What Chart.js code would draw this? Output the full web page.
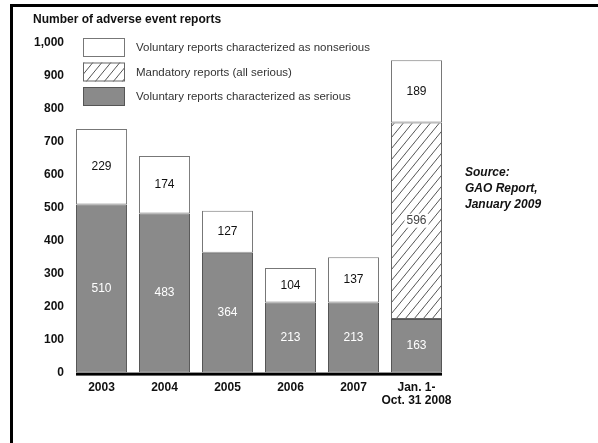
<!DOCTYPE html>
<html>
<head>
<meta charset="utf-8">
<script src="https://cdn.jsdelivr.net/npm/chart.js@4"></script>
<style>
  html, body { margin: 0; padding: 0; background: #fff; }
  #wrap { position: relative; width: 598px; height: 443px; overflow: hidden; font-family: "Liberation Sans", Arial, sans-serif; }
  #frame { position: absolute; left: 10px; top: 4px; right: -5px; bottom: -5px; border-top: 3px solid #000; border-left: 3px solid #000; }
  #title { position: absolute; left: 33px; top: 12px; font-weight: bold; font-size: 12px; line-height: 14px; color: #111; }
  #source { position: absolute; left: 465px; top: 164px; font-weight: bold; font-style: italic; font-size: 12px; line-height: 16px; color: #111; }
  canvas { position: absolute; left: 0; top: 0; }
</style>
</head>
<body>
<div id="wrap">
  <canvas id="chart" width="598" height="443"></canvas>
  <div id="frame"></div>
  <div id="title">Number of adverse event reports</div>
  <div id="source">Source:<br>GAO Report,<br>January 2009</div>
</div>
<script>
// Data
const categories = ['2003', '2004', '2005', '2006', '2007', ['Jan. 1-', 'Oct. 31 2008']];
const seriousValues = [510, 483, 364, 213, 213, 163];
const mandatoryValues = [0, 0, 0, 0, 0, 596];
const nonseriousValues = [229, 174, 127, 104, 137, 189];
const seriesNames = [
    'Voluntary reports characterized as serious',
    'Mandatory reports (all serious)',
    'Voluntary reports characterized as nonserious'
];
const Y_MAX = 1000;
const Y_STEP = 100;

const FONT = '"Liberation Sans", Arial, sans-serif';
const canvas = document.getElementById('chart');

/** Diagonal hatch used for the mandatory reports */
function makeHatch(ctx) {
    const w = 9, h = 11;
    const tile = document.createElement('canvas');
    tile.width = w; tile.height = h;
    const g = tile.getContext('2d');
    g.fillStyle = '#fff';
    g.fillRect(0, 0, w, h);
    g.strokeStyle = '#555';
    g.lineWidth = 1;
    g.beginPath();
    g.moveTo(0, h); g.lineTo(w, 0);
    g.moveTo(-w, h); g.lineTo(0, 0);
    g.moveTo(w, 2 * h); g.lineTo(2 * w, h);
    g.moveTo(-1, 1.2); g.lineTo(1, -1.2);
    g.moveTo(w - 1, h + 1.2); g.lineTo(w + 1, h - 1.2);
    g.stroke();
    return ctx.createPattern(tile, 'repeat');
}

const hatch = makeHatch(canvas.getContext('2d'));

// value labels drawn in the middle of each segment
const valueLabels = {
    id: 'valueLabels',
    afterDatasetsDraw(chart) {
        const ctx = chart.ctx;
        ctx.save();
        ctx.font = '12px ' + FONT;
        ctx.textAlign = 'center';
        ctx.textBaseline = 'middle';
        chart.data.datasets.forEach((ds, i) => {
            chart.getDatasetMeta(i).data.forEach((bar, j) => {
                const v = ds.data[j];
                if (!v) return;
                const y = (bar.y + bar.base) / 2;
                if (ds.labelBox) {
                    const tw = ctx.measureText(String(v)).width;
                    ctx.fillStyle = '#fff';
                    ctx.fillRect(bar.x - tw / 2 - 2, y - 7, tw + 4, 14);
                }
                ctx.fillStyle = ds.labelColor;
                ctx.fillText(String(v), bar.x, y);
            });
        });
        ctx.restore();
    }
};

// thick black baseline under the bars
const baseline = {
    id: 'baseline',
    afterDatasetsDraw(chart) {
        const bars = chart.getDatasetMeta(0).data;
        const first = bars[0], last = bars[bars.length - 1];
        const y0 = chart.scales.y.getPixelForValue(0);
        const ctx = chart.ctx;
        ctx.save();
        ctx.fillStyle = '#000';
        ctx.fillRect(first.x - first.width / 2, y0, (last.x + last.width / 2) - (first.x - first.width / 2), 3);
        ctx.restore();
    }
};

// legend boxes stacked at the top left of the plot
const boxLegend = {
    id: 'boxLegend',
    afterDraw(chart) {
        const ctx = chart.ctx;
        const items = chart.data.datasets.slice().reverse();
        ctx.save();
        ctx.font = '11.5px ' + FONT;
        ctx.textBaseline = 'middle';
        items.forEach((ds, i) => {
            const x = 83, y = 38 + i * 24.5, w = 42, h = 19;
            ctx.fillStyle = ds.backgroundColor;
            ctx.fillRect(x, y, w, h);
            ctx.strokeStyle = ds.borderColor;
            ctx.lineWidth = 1;
            ctx.strokeRect(x + 0.5, y + 0.5, w - 1, h - 1);
            ctx.fillStyle = '#333';
            ctx.fillText(ds.label, 136, y + h / 2 + 0.5);
        });
        ctx.restore();
    }
};

const barBorder = ctx => (ctx.raw ? 1 : 0);

new Chart(canvas, {
    type: 'bar',
    data: {
        labels: categories,
        datasets: [{
            label: seriesNames[0],
            data: seriousValues,
            backgroundColor: '#8a8a8a',
            borderColor: '#555',
            borderWidth: barBorder,
            borderSkipped: false,
            labelColor: '#fff'
        }, {
            label: seriesNames[1],
            data: mandatoryValues,
            backgroundColor: hatch,
            borderColor: '#666',
            borderWidth: barBorder,
            borderSkipped: false,
            labelColor: '#444',
            labelBox: true
        }, {
            label: seriesNames[2],
            data: nonseriousValues,
            backgroundColor: '#fff',
            borderColor: '#777',
            borderWidth: barBorder,
            borderSkipped: false,
            labelColor: '#111'
        }]
    },
    options: {
        responsive: false,
        animation: false,
        layout: { padding: { left: 28, right: 150, top: 43, bottom: 28 } },
        plugins: { legend: { display: false }, tooltip: { enabled: false } },
        datasets: { bar: { categoryPercentage: 1, barPercentage: 0.81 } },
        scales: {
            x: {
                stacked: true,
                grid: { display: false, drawTicks: false },
                border: { display: false },
                ticks: {
                    color: '#111',
                    padding: 8,
                    maxRotation: 0,
                    autoSkip: false,
                    font: { family: FONT, size: 12, weight: 'bold', lineHeight: 1.1 }
                }
            },
            y: {
                stacked: true,
                min: 0,
                max: Y_MAX,
                grid: { display: false, drawTicks: false },
                border: { display: false },
                ticks: {
                    stepSize: Y_STEP,
                    color: '#111',
                    padding: 6,
                    font: { family: FONT, size: 12, weight: 'bold' }
                }
            }
        }
    },
    plugins: [valueLabels, baseline, boxLegend]
});
</script>
</body>
</html>
